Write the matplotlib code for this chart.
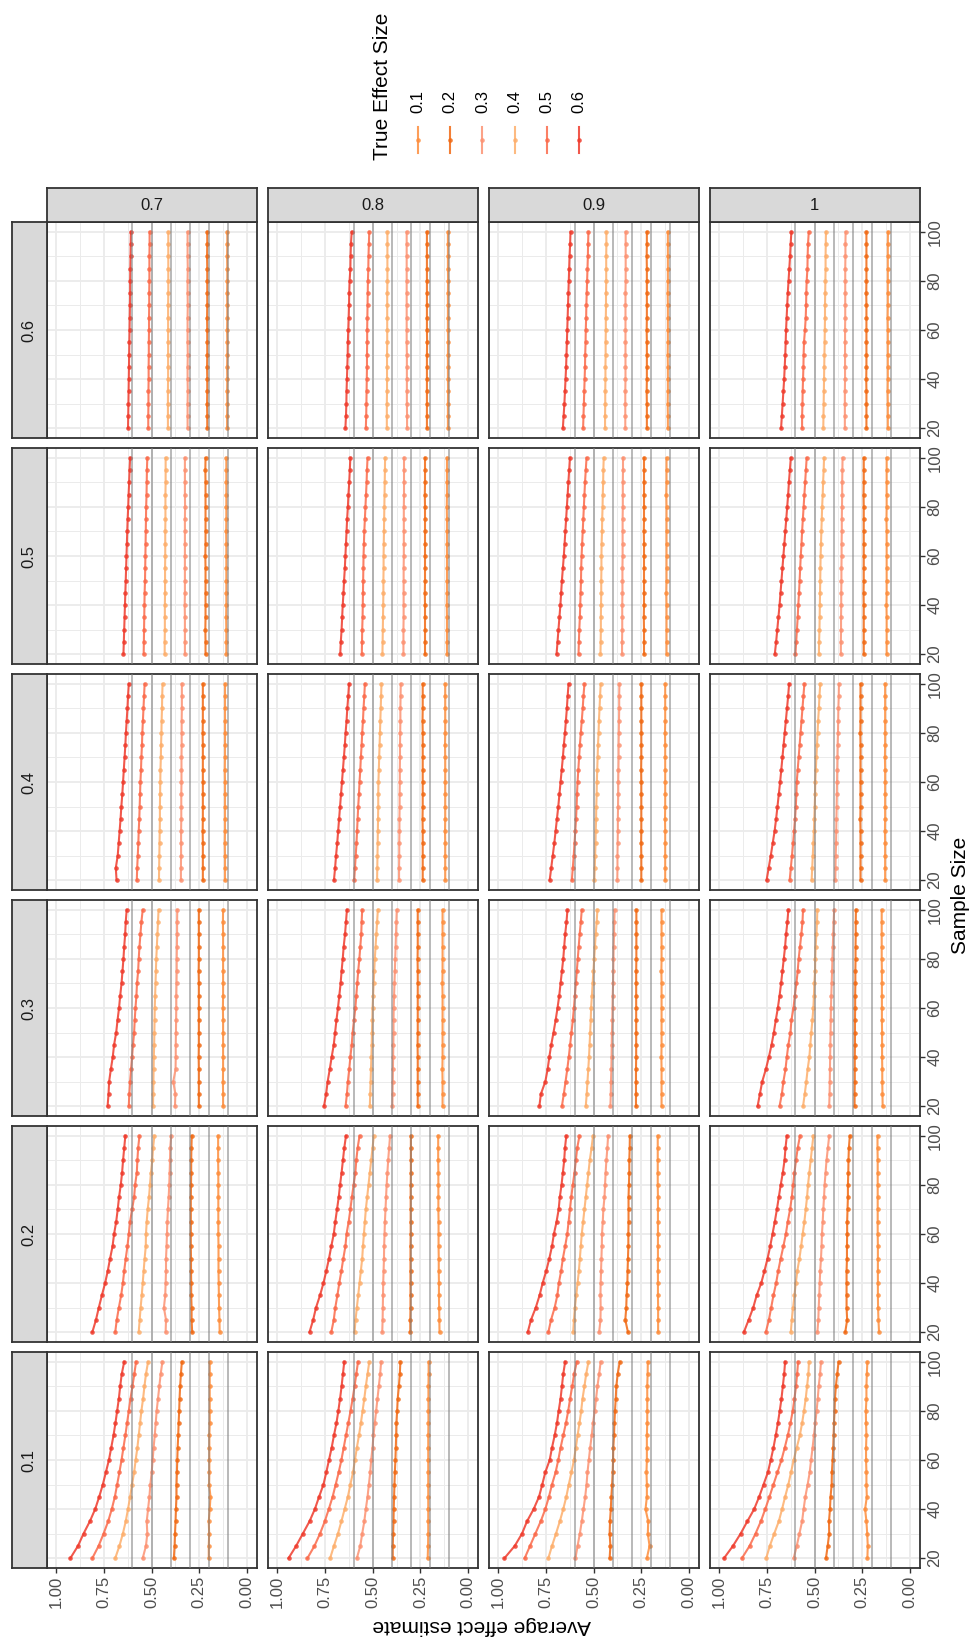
import matplotlib.pyplot as plt

plt.rcParams['font.family'] = ['Liberation Sans', 'DejaVu Sans']

# x axis of the original chart (the whole figure is drawn turned 90 degrees)
sample_size = [20, 25, 30, 35, 40, 45, 50, 55, 60, 65, 70, 75, 80, 85, 90, 95, 100]
true_effects = [0.1, 0.2, 0.3, 0.4, 0.5, 0.6]
effect_labels = ['0.1', '0.2', '0.3', '0.4', '0.5', '0.6']
effect_colors = ['#FD8D3C', '#F16913', '#FC9272', '#FDAE6B', '#FB6A4A', '#EF3B2C']
row_strips = ['0.6', '0.5', '0.4', '0.3', '0.2', '0.1']   # picture top -> bottom
col_strips = ['0.7', '0.8', '0.9', '1']                  # picture left -> right

# average estimate, one list per true effect (0.1 ... 0.6), N = 20 ... 100
est_06_07 = [
    [0.104, 0.104, 0.103, 0.104, 0.103, 0.104, 0.103, 0.103, 0.104, 0.103, 0.103, 0.104, 0.103, 0.103, 0.104, 0.103, 0.103],
    [0.208, 0.208, 0.209, 0.208, 0.208, 0.209, 0.208, 0.208, 0.208, 0.209, 0.208, 0.208, 0.208, 0.208, 0.209, 0.208, 0.208],
    [0.311, 0.311, 0.311, 0.310, 0.311, 0.311, 0.310, 0.311, 0.311, 0.311, 0.310, 0.311, 0.311, 0.310, 0.311, 0.311, 0.311],
    [0.414, 0.414, 0.414, 0.414, 0.413, 0.413, 0.413, 0.413, 0.413, 0.413, 0.413, 0.412, 0.412, 0.412, 0.412, 0.412, 0.412],
    [0.517, 0.517, 0.516, 0.516, 0.515, 0.515, 0.514, 0.514, 0.513, 0.513, 0.512, 0.512, 0.511, 0.511, 0.511, 0.510, 0.510],
    [0.623, 0.622, 0.621, 0.620, 0.619, 0.618, 0.617, 0.616, 0.615, 0.614, 0.613, 0.612, 0.612, 0.611, 0.610, 0.609, 0.608],
]
est_06_08 = [
    [0.106, 0.106, 0.106, 0.105, 0.106, 0.106, 0.106, 0.105, 0.106, 0.106, 0.106, 0.106, 0.105, 0.106, 0.106, 0.106, 0.106],
    [0.216, 0.216, 0.216, 0.216, 0.216, 0.216, 0.216, 0.215, 0.216, 0.216, 0.216, 0.216, 0.216, 0.216, 0.216, 0.216, 0.216],
    [0.320, 0.320, 0.321, 0.321, 0.321, 0.321, 0.321, 0.322, 0.322, 0.322, 0.322, 0.322, 0.322, 0.322, 0.322, 0.322, 0.322],
    [0.426, 0.426, 0.426, 0.425, 0.425, 0.425, 0.425, 0.424, 0.424, 0.424, 0.424, 0.424, 0.423, 0.423, 0.423, 0.423, 0.423],
    [0.536, 0.534, 0.533, 0.532, 0.531, 0.530, 0.530, 0.529, 0.529, 0.528, 0.527, 0.526, 0.525, 0.523, 0.522, 0.520, 0.518],
    [0.643, 0.640, 0.638, 0.637, 0.635, 0.633, 0.631, 0.630, 0.628, 0.626, 0.624, 0.623, 0.621, 0.617, 0.616, 0.614, 0.610],
]
est_06_09 = [
    [0.111, 0.111, 0.112, 0.111, 0.111, 0.111, 0.112, 0.111, 0.111, 0.111, 0.111, 0.112, 0.111, 0.111, 0.111, 0.111, 0.111],
    [0.221, 0.221, 0.221, 0.222, 0.221, 0.221, 0.221, 0.221, 0.222, 0.221, 0.221, 0.221, 0.221, 0.221, 0.222, 0.221, 0.221],
    [0.334, 0.334, 0.334, 0.334, 0.333, 0.333, 0.333, 0.333, 0.333, 0.333, 0.333, 0.333, 0.332, 0.332, 0.332, 0.332, 0.332],
    [0.440, 0.440, 0.439, 0.439, 0.438, 0.438, 0.437, 0.437, 0.436, 0.436, 0.435, 0.435, 0.434, 0.434, 0.434, 0.433, 0.433],
    [0.555, 0.553, 0.551, 0.549, 0.547, 0.545, 0.544, 0.542, 0.541, 0.539, 0.538, 0.536, 0.534, 0.532, 0.530, 0.529, 0.527],
    [0.661, 0.657, 0.653, 0.650, 0.647, 0.644, 0.642, 0.640, 0.638, 0.636, 0.634, 0.632, 0.630, 0.628, 0.626, 0.623, 0.621],
]
est_06_10 = [
    [0.116, 0.116, 0.116, 0.117, 0.116, 0.116, 0.116, 0.116, 0.116, 0.117, 0.116, 0.116, 0.116, 0.116, 0.116, 0.116, 0.115],
    [0.228, 0.228, 0.228, 0.228, 0.229, 0.228, 0.228, 0.228, 0.228, 0.228, 0.228, 0.229, 0.228, 0.228, 0.228, 0.228, 0.228],
    [0.341, 0.341, 0.341, 0.341, 0.340, 0.340, 0.340, 0.340, 0.340, 0.339, 0.339, 0.339, 0.339, 0.339, 0.338, 0.338, 0.337],
    [0.454, 0.453, 0.452, 0.451, 0.450, 0.449, 0.448, 0.447, 0.446, 0.445, 0.445, 0.444, 0.443, 0.442, 0.442, 0.441, 0.440],
    [0.565, 0.565, 0.563, 0.562, 0.560, 0.558, 0.557, 0.555, 0.550, 0.546, 0.544, 0.543, 0.541, 0.537, 0.536, 0.534, 0.530],
    [0.675, 0.671, 0.667, 0.663, 0.659, 0.656, 0.653, 0.651, 0.649, 0.646, 0.643, 0.640, 0.636, 0.632, 0.628, 0.625, 0.621],
]

est_05_07 = [
    [0.108, 0.108, 0.108, 0.109, 0.108, 0.108, 0.108, 0.108, 0.108, 0.108, 0.109, 0.108, 0.108, 0.108, 0.108, 0.108, 0.108],
    [0.217, 0.217, 0.218, 0.217, 0.217, 0.217, 0.217, 0.217, 0.218, 0.217, 0.217, 0.217, 0.217, 0.217, 0.217, 0.218, 0.217],
    [0.325, 0.325, 0.325, 0.325, 0.326, 0.325, 0.325, 0.325, 0.325, 0.325, 0.325, 0.325, 0.324, 0.325, 0.325, 0.325, 0.325],
    [0.431, 0.431, 0.430, 0.430, 0.430, 0.429, 0.429, 0.429, 0.428, 0.428, 0.428, 0.427, 0.427, 0.427, 0.426, 0.426, 0.426],
    [0.541, 0.540, 0.539, 0.538, 0.537, 0.536, 0.534, 0.533, 0.532, 0.531, 0.530, 0.529, 0.528, 0.526, 0.525, 0.524, 0.522],
    [0.647, 0.645, 0.643, 0.641, 0.639, 0.637, 0.635, 0.633, 0.631, 0.629, 0.627, 0.625, 0.622, 0.620, 0.617, 0.615, 0.612],
]
est_05_08 = [
    [0.111, 0.111, 0.111, 0.111, 0.112, 0.111, 0.111, 0.111, 0.111, 0.111, 0.111, 0.111, 0.112, 0.111, 0.111, 0.111, 0.111],
    [0.226, 0.226, 0.226, 0.226, 0.226, 0.227, 0.226, 0.226, 0.226, 0.226, 0.226, 0.226, 0.226, 0.227, 0.226, 0.226, 0.226],
    [0.339, 0.339, 0.339, 0.338, 0.338, 0.338, 0.338, 0.338, 0.337, 0.337, 0.337, 0.337, 0.337, 0.336, 0.336, 0.336, 0.336],
    [0.449, 0.448, 0.447, 0.446, 0.445, 0.444, 0.444, 0.443, 0.443, 0.442, 0.441, 0.440, 0.439, 0.438, 0.437, 0.436, 0.435],
    [0.557, 0.556, 0.555, 0.553, 0.552, 0.551, 0.550, 0.549, 0.548, 0.546, 0.544, 0.541, 0.538, 0.535, 0.532, 0.530, 0.527],
    [0.670, 0.667, 0.663, 0.660, 0.657, 0.653, 0.650, 0.646, 0.643, 0.640, 0.637, 0.634, 0.630, 0.627, 0.623, 0.620, 0.617],
]
est_05_09 = [
    [0.118, 0.118, 0.118, 0.118, 0.118, 0.119, 0.118, 0.118, 0.118, 0.118, 0.118, 0.118, 0.118, 0.119, 0.118, 0.118, 0.118],
    [0.236, 0.236, 0.236, 0.237, 0.236, 0.236, 0.236, 0.236, 0.236, 0.236, 0.237, 0.236, 0.236, 0.236, 0.236, 0.236, 0.236],
    [0.351, 0.351, 0.350, 0.350, 0.350, 0.349, 0.349, 0.349, 0.348, 0.348, 0.348, 0.348, 0.347, 0.347, 0.347, 0.346, 0.346],
    [0.464, 0.463, 0.462, 0.462, 0.461, 0.460, 0.460, 0.459, 0.459, 0.458, 0.456, 0.455, 0.453, 0.452, 0.450, 0.449, 0.447],
    [0.579, 0.577, 0.575, 0.572, 0.570, 0.568, 0.566, 0.565, 0.563, 0.560, 0.557, 0.554, 0.551, 0.548, 0.545, 0.541, 0.537],
    [0.694, 0.689, 0.684, 0.679, 0.674, 0.670, 0.666, 0.661, 0.656, 0.652, 0.648, 0.644, 0.640, 0.636, 0.632, 0.628, 0.624],
]
est_05_10 = [
    [0.122, 0.122, 0.122, 0.122, 0.123, 0.122, 0.122, 0.122, 0.122, 0.122, 0.122, 0.123, 0.122, 0.122, 0.122, 0.122, 0.122],
    [0.242, 0.242, 0.242, 0.242, 0.242, 0.243, 0.242, 0.242, 0.242, 0.242, 0.242, 0.242, 0.242, 0.243, 0.242, 0.242, 0.242],
    [0.362, 0.362, 0.361, 0.361, 0.360, 0.360, 0.359, 0.359, 0.358, 0.358, 0.357, 0.357, 0.356, 0.355, 0.355, 0.354, 0.353],
    [0.477, 0.476, 0.474, 0.473, 0.472, 0.471, 0.470, 0.469, 0.468, 0.466, 0.464, 0.462, 0.460, 0.457, 0.455, 0.452, 0.450],
    [0.600, 0.596, 0.592, 0.588, 0.585, 0.581, 0.578, 0.575, 0.572, 0.568, 0.565, 0.561, 0.557, 0.553, 0.549, 0.545, 0.541],
    [0.708, 0.701, 0.695, 0.689, 0.683, 0.678, 0.673, 0.668, 0.663, 0.658, 0.653, 0.648, 0.643, 0.638, 0.634, 0.629, 0.624],
]

est_04_07 = [
    [0.115, 0.115, 0.115, 0.116, 0.115, 0.115, 0.115, 0.115, 0.115, 0.116, 0.115, 0.115, 0.115, 0.115, 0.115, 0.115, 0.115],
    [0.231, 0.231, 0.231, 0.231, 0.232, 0.231, 0.231, 0.231, 0.231, 0.231, 0.231, 0.231, 0.232, 0.231, 0.231, 0.231, 0.231],
    [0.346, 0.346, 0.345, 0.345, 0.345, 0.344, 0.344, 0.344, 0.343, 0.343, 0.343, 0.342, 0.342, 0.342, 0.341, 0.341, 0.341],
    [0.461, 0.460, 0.459, 0.458, 0.457, 0.456, 0.456, 0.455, 0.454, 0.453, 0.451, 0.450, 0.448, 0.447, 0.445, 0.444, 0.442],
    [0.577, 0.575, 0.572, 0.569, 0.567, 0.564, 0.562, 0.560, 0.558, 0.555, 0.553, 0.550, 0.548, 0.545, 0.542, 0.539, 0.536],
    [0.683, 0.687, 0.677, 0.672, 0.667, 0.662, 0.658, 0.653, 0.649, 0.645, 0.641, 0.637, 0.634, 0.630, 0.626, 0.623, 0.619],
]
est_04_08 = [
    [0.120, 0.120, 0.120, 0.120, 0.121, 0.120, 0.120, 0.120, 0.120, 0.120, 0.120, 0.121, 0.120, 0.120, 0.120, 0.120, 0.120],
    [0.238, 0.238, 0.238, 0.238, 0.238, 0.239, 0.238, 0.238, 0.238, 0.238, 0.238, 0.238, 0.238, 0.239, 0.238, 0.238, 0.238],
    [0.362, 0.362, 0.361, 0.361, 0.360, 0.360, 0.359, 0.359, 0.358, 0.358, 0.357, 0.357, 0.356, 0.355, 0.355, 0.354, 0.353],
    [0.477, 0.476, 0.475, 0.474, 0.473, 0.472, 0.471, 0.471, 0.470, 0.468, 0.466, 0.464, 0.462, 0.460, 0.458, 0.456, 0.454],
    [0.597, 0.593, 0.589, 0.585, 0.582, 0.579, 0.576, 0.572, 0.569, 0.565, 0.562, 0.558, 0.555, 0.551, 0.548, 0.544, 0.541],
    [0.703, 0.697, 0.692, 0.686, 0.681, 0.676, 0.671, 0.666, 0.661, 0.656, 0.651, 0.646, 0.642, 0.637, 0.633, 0.628, 0.624],
]
est_04_09 = [
    [0.125, 0.125, 0.125, 0.125, 0.125, 0.126, 0.125, 0.125, 0.125, 0.125, 0.125, 0.125, 0.126, 0.125, 0.125, 0.125, 0.125],
    [0.250, 0.250, 0.250, 0.251, 0.250, 0.250, 0.250, 0.250, 0.250, 0.251, 0.250, 0.250, 0.250, 0.250, 0.250, 0.250, 0.250],
    [0.376, 0.375, 0.375, 0.374, 0.373, 0.373, 0.372, 0.371, 0.371, 0.370, 0.369, 0.369, 0.368, 0.367, 0.366, 0.366, 0.365],
    [0.496, 0.494, 0.492, 0.490, 0.489, 0.487, 0.486, 0.484, 0.483, 0.481, 0.479, 0.477, 0.474, 0.472, 0.469, 0.466, 0.463],
    [0.614, 0.609, 0.604, 0.600, 0.596, 0.592, 0.589, 0.587, 0.584, 0.580, 0.576, 0.572, 0.567, 0.562, 0.557, 0.553, 0.548],
    [0.730, 0.722, 0.714, 0.706, 0.699, 0.692, 0.685, 0.679, 0.673, 0.667, 0.661, 0.656, 0.650, 0.645, 0.640, 0.636, 0.631],
]
est_04_10 = [
    [0.130, 0.130, 0.130, 0.130, 0.131, 0.130, 0.130, 0.130, 0.130, 0.130, 0.131, 0.130, 0.130, 0.130, 0.130, 0.130, 0.130],
    [0.259, 0.259, 0.259, 0.259, 0.259, 0.260, 0.259, 0.259, 0.259, 0.259, 0.259, 0.259, 0.260, 0.259, 0.259, 0.259, 0.259],
    [0.391, 0.390, 0.389, 0.387, 0.386, 0.385, 0.384, 0.383, 0.382, 0.381, 0.380, 0.379, 0.377, 0.376, 0.375, 0.373, 0.372],
    [0.515, 0.512, 0.509, 0.506, 0.503, 0.501, 0.499, 0.497, 0.496, 0.493, 0.490, 0.487, 0.484, 0.481, 0.477, 0.474, 0.470],
    [0.630, 0.624, 0.618, 0.612, 0.607, 0.602, 0.598, 0.595, 0.593, 0.588, 0.583, 0.578, 0.573, 0.568, 0.563, 0.558, 0.553],
    [0.751, 0.740, 0.729, 0.719, 0.709, 0.701, 0.694, 0.687, 0.680, 0.674, 0.668, 0.662, 0.656, 0.650, 0.644, 0.638, 0.633],
]

est_03_07 = [
    [0.125, 0.125, 0.126, 0.125, 0.125, 0.125, 0.125, 0.125, 0.126, 0.125, 0.125, 0.125, 0.125, 0.125, 0.125, 0.126, 0.125],
    [0.252, 0.252, 0.252, 0.252, 0.253, 0.252, 0.252, 0.252, 0.252, 0.252, 0.252, 0.253, 0.252, 0.252, 0.252, 0.252, 0.252],
    [0.377, 0.375, 0.386, 0.374, 0.373, 0.373, 0.372, 0.371, 0.370, 0.370, 0.369, 0.368, 0.368, 0.367, 0.366, 0.366, 0.365],
    [0.492, 0.491, 0.490, 0.489, 0.488, 0.486, 0.485, 0.484, 0.483, 0.481, 0.479, 0.477, 0.475, 0.472, 0.469, 0.466, 0.463],
    [0.619, 0.616, 0.612, 0.607, 0.602, 0.597, 0.591, 0.588, 0.584, 0.579, 0.576, 0.570, 0.567, 0.563, 0.558, 0.553, 0.546],
    [0.730, 0.725, 0.722, 0.713, 0.703, 0.696, 0.685, 0.678, 0.670, 0.664, 0.657, 0.652, 0.647, 0.643, 0.638, 0.635, 0.630],
]
est_03_08 = [
    [0.134, 0.134, 0.134, 0.135, 0.134, 0.134, 0.134, 0.134, 0.134, 0.134, 0.135, 0.134, 0.134, 0.134, 0.134, 0.134, 0.134],
    [0.264, 0.264, 0.264, 0.264, 0.264, 0.265, 0.264, 0.264, 0.264, 0.264, 0.264, 0.264, 0.265, 0.264, 0.264, 0.264, 0.264],
    [0.397, 0.396, 0.395, 0.394, 0.393, 0.392, 0.391, 0.391, 0.390, 0.388, 0.386, 0.384, 0.382, 0.380, 0.378, 0.376, 0.374],
    [0.515, 0.513, 0.511, 0.509, 0.507, 0.505, 0.504, 0.502, 0.501, 0.498, 0.495, 0.492, 0.489, 0.485, 0.481, 0.477, 0.473],
    [0.642, 0.635, 0.630, 0.623, 0.617, 0.610, 0.605, 0.598, 0.591, 0.586, 0.581, 0.576, 0.570, 0.565, 0.560, 0.558, 0.555],
    [0.755, 0.744, 0.736, 0.725, 0.715, 0.704, 0.697, 0.690, 0.682, 0.675, 0.668, 0.663, 0.657, 0.652, 0.645, 0.640, 0.635],
]
est_03_09 = [
    [0.144, 0.144, 0.144, 0.144, 0.145, 0.144, 0.144, 0.144, 0.144, 0.144, 0.144, 0.145, 0.144, 0.144, 0.144, 0.144, 0.144],
    [0.278, 0.278, 0.278, 0.278, 0.277, 0.277, 0.277, 0.277, 0.277, 0.277, 0.277, 0.277, 0.276, 0.276, 0.276, 0.276, 0.276],
    [0.412, 0.410, 0.409, 0.407, 0.406, 0.405, 0.404, 0.402, 0.401, 0.400, 0.398, 0.397, 0.396, 0.395, 0.393, 0.392, 0.390],
    [0.541, 0.536, 0.532, 0.528, 0.524, 0.521, 0.518, 0.515, 0.513, 0.509, 0.505, 0.501, 0.497, 0.493, 0.489, 0.484, 0.480],
    [0.666, 0.656, 0.647, 0.638, 0.630, 0.623, 0.616, 0.609, 0.603, 0.598, 0.593, 0.588, 0.583, 0.578, 0.573, 0.567, 0.562],
    [0.784, 0.776, 0.753, 0.741, 0.732, 0.722, 0.710, 0.699, 0.689, 0.680, 0.673, 0.666, 0.659, 0.654, 0.649, 0.642, 0.637],
]
est_03_10 = [
    [0.143, 0.144, 0.145, 0.145, 0.146, 0.146, 0.146, 0.147, 0.147, 0.147, 0.147, 0.147, 0.148, 0.148, 0.148, 0.148, 0.148],
    [0.290, 0.290, 0.289, 0.289, 0.289, 0.288, 0.288, 0.288, 0.287, 0.287, 0.286, 0.286, 0.285, 0.285, 0.284, 0.284, 0.283],
    [0.423, 0.421, 0.420, 0.419, 0.418, 0.417, 0.416, 0.415, 0.414, 0.412, 0.410, 0.408, 0.406, 0.404, 0.402, 0.400, 0.397],
    [0.560, 0.551, 0.543, 0.536, 0.527, 0.522, 0.517, 0.511, 0.506, 0.503, 0.501, 0.497, 0.496, 0.494, 0.490, 0.487, 0.485],
    [0.683, 0.671, 0.663, 0.652, 0.645, 0.637, 0.626, 0.621, 0.610, 0.603, 0.595, 0.588, 0.583, 0.576, 0.569, 0.563, 0.560],
    [0.798, 0.786, 0.774, 0.755, 0.739, 0.725, 0.713, 0.703, 0.692, 0.683, 0.675, 0.668, 0.661, 0.654, 0.649, 0.642, 0.637],
]

est_02_07 = [
    [0.143, 0.144, 0.146, 0.147, 0.148, 0.149, 0.149, 0.149, 0.150, 0.150, 0.150, 0.150, 0.150, 0.150, 0.151, 0.151, 0.151],
    [0.287, 0.290, 0.290, 0.292, 0.292, 0.293, 0.293, 0.294, 0.294, 0.294, 0.294, 0.294, 0.293, 0.292, 0.292, 0.291, 0.289],
    [0.426, 0.424, 0.435, 0.428, 0.426, 0.424, 0.424, 0.421, 0.419, 0.417, 0.414, 0.410, 0.407, 0.405, 0.403, 0.402, 0.397],
    [0.567, 0.562, 0.557, 0.551, 0.546, 0.541, 0.536, 0.530, 0.529, 0.525, 0.520, 0.513, 0.508, 0.503, 0.496, 0.492, 0.485],
    [0.690, 0.682, 0.671, 0.659, 0.650, 0.643, 0.635, 0.626, 0.619, 0.612, 0.602, 0.591, 0.586, 0.577, 0.574, 0.570, 0.563],
    [0.810, 0.791, 0.776, 0.760, 0.743, 0.729, 0.717, 0.704, 0.696, 0.685, 0.677, 0.670, 0.661, 0.654, 0.649, 0.643, 0.637],
]
est_02_08 = [
    [0.150, 0.151, 0.152, 0.153, 0.153, 0.154, 0.154, 0.155, 0.155, 0.155, 0.156, 0.156, 0.156, 0.156, 0.157, 0.157, 0.157],
    [0.303, 0.303, 0.302, 0.302, 0.302, 0.302, 0.302, 0.302, 0.301, 0.301, 0.301, 0.301, 0.301, 0.300, 0.300, 0.300, 0.300],
    [0.450, 0.448, 0.447, 0.446, 0.445, 0.443, 0.441, 0.440, 0.438, 0.436, 0.433, 0.430, 0.427, 0.423, 0.419, 0.414, 0.409],
    [0.595, 0.590, 0.583, 0.576, 0.569, 0.562, 0.555, 0.551, 0.546, 0.541, 0.536, 0.529, 0.522, 0.515, 0.508, 0.501, 0.494],
    [0.717, 0.704, 0.696, 0.685, 0.675, 0.664, 0.654, 0.643, 0.637, 0.626, 0.617, 0.609, 0.600, 0.591, 0.586, 0.579, 0.569],
    [0.831, 0.812, 0.797, 0.776, 0.758, 0.743, 0.729, 0.717, 0.704, 0.696, 0.687, 0.678, 0.671, 0.663, 0.656, 0.649, 0.640],
]
est_02_09 = [
    [0.162, 0.162, 0.162, 0.163, 0.163, 0.163, 0.163, 0.163, 0.163, 0.163, 0.163, 0.163, 0.164, 0.164, 0.164, 0.164, 0.164],
    [0.320, 0.334, 0.329, 0.327, 0.323, 0.322, 0.320, 0.318, 0.318, 0.317, 0.317, 0.317, 0.315, 0.313, 0.313, 0.311, 0.310],
    [0.471, 0.464, 0.463, 0.464, 0.463, 0.461, 0.459, 0.457, 0.456, 0.452, 0.449, 0.443, 0.440, 0.437, 0.433, 0.428, 0.424],
    [0.607, 0.603, 0.598, 0.591, 0.584, 0.577, 0.572, 0.567, 0.562, 0.555, 0.548, 0.541, 0.534, 0.527, 0.520, 0.511, 0.503],
    [0.737, 0.723, 0.704, 0.690, 0.682, 0.670, 0.661, 0.649, 0.638, 0.631, 0.624, 0.617, 0.609, 0.600, 0.593, 0.586, 0.574],
    [0.845, 0.828, 0.803, 0.783, 0.767, 0.748, 0.732, 0.718, 0.708, 0.694, 0.683, 0.677, 0.668, 0.661, 0.654, 0.650, 0.643],
]
est_02_10 = [
    [0.162, 0.165, 0.167, 0.168, 0.168, 0.168, 0.168, 0.168, 0.169, 0.169, 0.169, 0.169, 0.169, 0.169, 0.169, 0.170, 0.170],
    [0.339, 0.329, 0.332, 0.332, 0.332, 0.332, 0.330, 0.330, 0.329, 0.329, 0.327, 0.325, 0.325, 0.323, 0.322, 0.320, 0.315],
    [0.485, 0.480, 0.478, 0.475, 0.473, 0.470, 0.466, 0.463, 0.461, 0.457, 0.454, 0.450, 0.447, 0.442, 0.437, 0.430, 0.423],
    [0.624, 0.619, 0.612, 0.605, 0.598, 0.590, 0.579, 0.570, 0.562, 0.553, 0.546, 0.539, 0.534, 0.527, 0.520, 0.513, 0.506],
    [0.755, 0.739, 0.727, 0.715, 0.701, 0.690, 0.677, 0.663, 0.650, 0.640, 0.628, 0.619, 0.612, 0.605, 0.597, 0.588, 0.576],
    [0.870, 0.845, 0.821, 0.803, 0.779, 0.762, 0.746, 0.732, 0.720, 0.708, 0.697, 0.687, 0.677, 0.666, 0.657, 0.652, 0.645],
]

est_01_07 = [
    [0.200, 0.200, 0.198, 0.200, 0.195, 0.191, 0.198, 0.197, 0.197, 0.197, 0.197, 0.195, 0.195, 0.195, 0.195, 0.195, 0.195],
    [0.383, 0.379, 0.377, 0.374, 0.372, 0.369, 0.369, 0.367, 0.365, 0.363, 0.360, 0.358, 0.355, 0.353, 0.350, 0.346, 0.341],
    [0.546, 0.529, 0.522, 0.525, 0.518, 0.511, 0.506, 0.499, 0.494, 0.489, 0.483, 0.478, 0.473, 0.466, 0.459, 0.452, 0.443],
    [0.690, 0.668, 0.650, 0.635, 0.623, 0.612, 0.602, 0.591, 0.583, 0.574, 0.567, 0.560, 0.553, 0.544, 0.537, 0.529, 0.518],
    [0.810, 0.777, 0.751, 0.727, 0.708, 0.692, 0.680, 0.668, 0.657, 0.647, 0.637, 0.628, 0.619, 0.610, 0.600, 0.590, 0.581],
    [0.925, 0.885, 0.856, 0.823, 0.795, 0.774, 0.755, 0.739, 0.723, 0.711, 0.699, 0.689, 0.680, 0.671, 0.664, 0.656, 0.643],
]
est_01_08 = [
    [0.212, 0.210, 0.209, 0.209, 0.209, 0.209, 0.209, 0.209, 0.209, 0.209, 0.209, 0.208, 0.208, 0.208, 0.208, 0.207, 0.207],
    [0.395, 0.395, 0.393, 0.391, 0.390, 0.388, 0.386, 0.384, 0.381, 0.379, 0.377, 0.376, 0.372, 0.369, 0.363, 0.358, 0.355],
    [0.583, 0.565, 0.555, 0.544, 0.536, 0.527, 0.520, 0.513, 0.508, 0.501, 0.496, 0.489, 0.482, 0.475, 0.468, 0.461, 0.456],
    [0.723, 0.703, 0.682, 0.664, 0.647, 0.630, 0.617, 0.603, 0.593, 0.583, 0.572, 0.562, 0.553, 0.544, 0.536, 0.527, 0.518],
    [0.842, 0.805, 0.776, 0.751, 0.730, 0.710, 0.694, 0.678, 0.664, 0.652, 0.640, 0.628, 0.616, 0.605, 0.595, 0.586, 0.577],
    [0.941, 0.901, 0.866, 0.831, 0.803, 0.781, 0.758, 0.743, 0.729, 0.715, 0.703, 0.690, 0.680, 0.671, 0.663, 0.656, 0.649],
]
est_01_09 = [
    [0.221, 0.207, 0.216, 0.214, 0.228, 0.221, 0.221, 0.223, 0.221, 0.221, 0.221, 0.219, 0.219, 0.219, 0.219, 0.217, 0.216],
    [0.416, 0.412, 0.416, 0.414, 0.410, 0.407, 0.403, 0.400, 0.398, 0.397, 0.393, 0.391, 0.388, 0.384, 0.381, 0.374, 0.363],
    [0.595, 0.584, 0.572, 0.562, 0.553, 0.544, 0.537, 0.532, 0.525, 0.518, 0.510, 0.503, 0.494, 0.487, 0.480, 0.471, 0.463],
    [0.737, 0.718, 0.697, 0.677, 0.659, 0.643, 0.630, 0.616, 0.603, 0.593, 0.584, 0.574, 0.565, 0.558, 0.548, 0.539, 0.527],
    [0.861, 0.833, 0.805, 0.777, 0.753, 0.734, 0.718, 0.699, 0.685, 0.673, 0.659, 0.645, 0.633, 0.623, 0.612, 0.602, 0.588],
    [0.967, 0.913, 0.875, 0.849, 0.814, 0.786, 0.769, 0.753, 0.730, 0.718, 0.704, 0.692, 0.683, 0.673, 0.666, 0.659, 0.649],
]
est_01_10 = [
    [0.223, 0.221, 0.224, 0.228, 0.235, 0.226, 0.228, 0.228, 0.230, 0.230, 0.228, 0.230, 0.231, 0.228, 0.228, 0.226, 0.223],
    [0.440, 0.431, 0.423, 0.424, 0.419, 0.416, 0.410, 0.409, 0.405, 0.402, 0.400, 0.398, 0.395, 0.393, 0.388, 0.381, 0.374],
    [0.609, 0.593, 0.579, 0.565, 0.557, 0.548, 0.536, 0.525, 0.518, 0.510, 0.503, 0.496, 0.489, 0.483, 0.478, 0.471, 0.466],
    [0.753, 0.734, 0.711, 0.687, 0.670, 0.654, 0.637, 0.623, 0.609, 0.593, 0.577, 0.565, 0.555, 0.546, 0.539, 0.532, 0.529],
    [0.880, 0.840, 0.809, 0.781, 0.758, 0.736, 0.715, 0.694, 0.673, 0.656, 0.640, 0.626, 0.614, 0.605, 0.597, 0.591, 0.586],
    [0.974, 0.927, 0.887, 0.852, 0.816, 0.790, 0.767, 0.744, 0.729, 0.715, 0.703, 0.692, 0.682, 0.673, 0.666, 0.659, 0.654],
]

panels = [
    [est_06_07, est_06_08, est_06_09, est_06_10],
    [est_05_07, est_05_08, est_05_09, est_05_10],
    [est_04_07, est_04_08, est_04_09, est_04_10],
    [est_03_07, est_03_08, est_03_09, est_03_10],
    [est_02_07, est_02_08, est_02_09, est_02_10],
    [est_01_07, est_01_08, est_01_09, est_01_10],
]

# ---- layout (pixels of the 971 x 1639 canvas) ----
W, H = 971, 1639
col_left = [46.5, 267.7, 488.6, 709.5]
row_top = [222, 448, 674, 900, 1126, 1352]
pw, ph = 210, 216
BORDER = '#333333'
GRID = '#EBEBEB'
LW, MS = 1.5, 3.3


def rect(x, y, w, h):
    return [x / W, 1 - (y + h) / H, w / W, h / H]


fig = plt.figure(figsize=(W / 100, H / 100), dpi=100)

for r in range(6):
    for c in range(4):
        ax = fig.add_axes(rect(col_left[c], row_top[r], pw, ph))
        ax.set_axisbelow(True)
        data = panels[r][c]
        for k in range(len(true_effects)):
            ax.plot(data[k], sample_size, color=effect_colors[k], lw=LW, alpha=0.85,
                    marker='o', ms=MS, mew=0, zorder=2)
        for te in true_effects:
            ax.axvline(te, color='#7f7f7f', alpha=0.55, lw=1.4, zorder=3)
        ax.set_xlim(1.05, -0.05)
        ax.set_ylim(16, 104)
        ax.set_xticks([0, 0.25, 0.5, 0.75, 1.0])
        ax.set_xticks([0.125, 0.375, 0.625, 0.875], minor=True)
        ax.set_yticks([20, 40, 60, 80, 100])
        ax.set_yticks([30, 50, 70, 90], minor=True)
        ax.grid(which='major', color=GRID, lw=1.3)
        ax.grid(which='minor', color=GRID, lw=0.7)
        ax.yaxis.tick_right()
        ax.tick_params(which='minor', length=0)
        ax.tick_params(which='major', length=3.8, width=1.0, color=BORDER,
                       labelcolor='#4D4D4D', labelsize=12, pad=2)
        ax.tick_params(axis='x', bottom=(r == 5), labelbottom=(r == 5), labelrotation=90)
        ax.tick_params(axis='y', right=(c == 3), labelright=(c == 3), left=False,
                       labelleft=False, labelrotation=90)
        if r == 5:
            ax.set_xticklabels(['0.00', '0.25', '0.50', '0.75', '1.00'])
        if c == 3:
            for lab in ax.get_yticklabels():
                lab.set_verticalalignment('center')
        for sp in ax.spines.values():
            sp.set_color(BORDER)
            sp.set_linewidth(1.3)

    # left strip (facet rows of the original chart)
    sax = fig.add_axes(rect(12, row_top[r], 34.5, ph))
    sax.set_facecolor('#D9D9D9')
    sax.set_xticks([])
    sax.set_yticks([])
    for sp in sax.spines.values():
        sp.set_color(BORDER)
        sp.set_linewidth(1.3)
    sax.text(0.5, 0.5, row_strips[r], rotation=90, ha='center', va='center',
             fontsize=12, color='#1A1A1A', transform=sax.transAxes)

for c in range(4):
    sax = fig.add_axes(rect(col_left[c], 188, pw, 34))
    sax.set_facecolor('#D9D9D9')
    sax.set_xticks([])
    sax.set_yticks([])
    for sp in sax.spines.values():
        sp.set_color(BORDER)
        sp.set_linewidth(1.3)
    sax.text(0.5, 0.5, col_strips[c], ha='center', va='center',
             fontsize=12, color='#1A1A1A', transform=sax.transAxes)

# axis titles
fig.text(960 / W, 1 - 895 / H, 'Sample Size', rotation=90, ha='center', va='center',
         fontsize=15, color='black')
fig.text(482 / W, 1 - 1626 / H, 'Average effect estimate', rotation=180, ha='center',
         va='center', fontsize=15, color='black')

# legend, drawn turned like the rest
lax = fig.add_axes(rect(355, 0, 260, 170))
lax.set_xlim(355, 615)
lax.set_ylim(170, 0)
lax.axis('off')
lax.text(382, 86, 'True Effect Size', rotation=90, ha='center', va='center',
         fontsize=15, color='black')
for k in range(len(true_effects)):
    kx = 418 + k * 32.2
    lax.text(kx, 113, effect_labels[k], rotation=90, ha='center', va='bottom',
             fontsize=12, color='black')
    lax.plot([kx, kx], [127, 153], color=effect_colors[k], lw=LW, alpha=0.85)
    lax.plot([kx], [140], 'o', color=effect_colors[k], ms=MS, mew=0, alpha=0.85)

fig.savefig('out.png', dpi=100)
